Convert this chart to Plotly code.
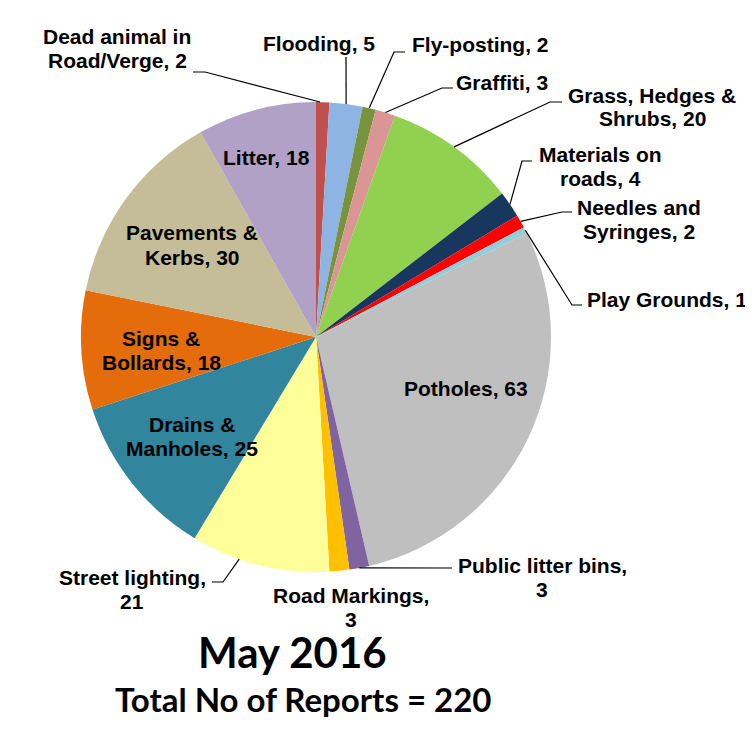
import math
import plotly.graph_objects as go

# ---------------- data ----------------
categories = [
    "Dead animal in Road/Verge", "Flooding", "Fly-posting", "Graffiti",
    "Grass, Hedges & Shrubs", "Materials on roads", "Needles and Syringes",
    "Play Grounds", "Potholes", "Public litter bins", "Road Markings",
    "Street lighting", "Drains & Manholes", "Signs & Bollards",
    "Pavements & Kerbs", "Litter",
]
values = [2, 5, 2, 3, 20, 4, 2, 1, 63, 3, 3, 21, 25, 18, 30, 18]
colors = [
    "#C0504D", "#8DB4E2", "#77933C", "#DA9694", "#92D050", "#17375E",
    "#FF0000", "#92CDDC", "#BFBFBF", "#8064A2", "#FFC000", "#FFFF99",
    "#31859C", "#E46C0A", "#C4BD97", "#B2A1C7",
]
title_text = "May 2016"
subtitle_text = "Total No of Reports = " + str(sum(values))

# ---------------- layout (pixels of the 753x732 window) ----------------
OFF = 8                      # page body margin
W, H = 753 - OFF, 732 - OFF  # figure size
CX, CY, R = 316, 337, 235
LINE_GAP = 24

# label centre (px), words before line break (0 = none), leader points (px) or None,
# fraction within slice where leader touches pie edge
label_layout = {
    "Dead animal in Road/Verge": dict(pos=(117, 48), brk=3, lead=[(193, 72), (205, 72)], f=0.3),
    "Flooding": dict(pos=(319, 43), brk=0, lead=[(346, 57)], f=0.5),
    "Fly-posting": dict(pos=(480, 45), brk=0, lead=[(405, 52), (394, 52)], f=0.5),
    "Graffiti": dict(pos=(502, 82), brk=0, lead=[(453, 88), (442, 88)], f=0.5),
    "Grass, Hedges & Shrubs": dict(pos=(652, 107), brk=3, lead=[(562, 102), (550, 102)], f=0.5),
    "Materials on roads": dict(pos=(600, 167), brk=2, lead=[(532, 161), (522, 161)], f=0.5),
    "Needles and Syringes": dict(pos=(639, 219), brk=2, lead=[(572, 212), (562, 212)], f=0.5),
    "Play Grounds": dict(pos=(667, 299), brk=0, lead=[(582, 305), (572, 305)], f=0.5),
    "Potholes": dict(pos=(466, 388), brk=0, lead=None, f=0.5),
    "Public litter bins": dict(pos=(542, 577), brk=3, lead=[(452, 568)], f=0.5),
    "Road Markings": dict(pos=(351, 607), brk=2, lead=None, f=0.5),
    "Street lighting": dict(pos=(132, 589), brk=2, lead=[(212, 582), (223, 582)], f=0.65),
    "Drains & Manholes": dict(pos=(192, 436), brk=2, lead=None, f=0.5),
    "Signs & Bollards": dict(pos=(161, 350), brk=2, lead=None, f=0.5),
    "Pavements & Kerbs": dict(pos=(192, 245), brk=2, lead=None, f=0.5),
    "Litter": dict(pos=(266, 157), brk=0, lead=None, f=0.5),
}


def px(x):
    return (x - OFF) / W


def py(y):
    return 1 - (y - OFF) / H


total = sum(values)


def edge_point(i, frac):
    cum = sum(values[:i]) + frac * values[i]
    th = 2 * math.pi * cum / total
    return CX + R * math.sin(th), CY - R * math.cos(th)


fig = go.Figure(go.Pie(
    labels=categories,
    values=values,
    sort=False,
    direction="clockwise",
    rotation=0,
    marker=dict(colors=colors, line=dict(width=0)),
    textinfo="none",
    hoverinfo="label+value",
    domain=dict(x=[px(CX - R), px(CX + R)], y=[py(CY + R), py(CY - R)]),
    showlegend=False,
))

LABEL_FONT = dict(family="Liberation Sans, Arial, sans-serif", size=21, color="black")

annotations = []
shapes = []
for i, (cat, val) in enumerate(zip(categories, values)):
    spec = label_layout[cat]
    words = f"{cat}, {val}".split(" ")
    if spec["brk"]:
        lines = [" ".join(words[:spec["brk"]]), " ".join(words[spec["brk"]:])]
    else:
        lines = [" ".join(words)]
    x, y = spec["pos"]
    n = len(lines)
    for k, line in enumerate(lines):
        ly = y + (k - (n - 1) / 2) * LINE_GAP
        annotations.append(dict(
            x=px(x), y=py(ly), xref="paper", yref="paper",
            text="<b>" + line.replace("&", "&amp;") + "</b>",
            showarrow=False, xanchor="center", yanchor="middle", align="center",
            font=LABEL_FONT,
        ))
    if spec["lead"]:
        pts = spec["lead"] + [edge_point(i, spec["f"])]
        path = "M " + " L ".join(f"{px(a):.5f},{py(b):.5f}" for a, b in pts)
        shapes.append(dict(type="path", path=path, xref="paper", yref="paper",
                           line=dict(color="black", width=1.2)))

annotations.append(dict(
    x=px(292), y=py(652), xref="paper", yref="paper", text="<b>" + title_text + "</b>",
    showarrow=False, xanchor="center", yanchor="middle",
    font=dict(family="Lato, sans-serif", size=42, color="black"),
))
annotations.append(dict(
    x=px(303), y=py(699), xref="paper", yref="paper", text="<b>" + subtitle_text + "</b>",
    showarrow=False, xanchor="center", yanchor="middle",
    font=dict(family="Lato, sans-serif", size=33, color="black"),
))

fig.update_layout(
    width=W, height=H,
    margin=dict(l=0, r=0, t=0, b=0),
    paper_bgcolor="white",
    plot_bgcolor="white",
    annotations=annotations,
    shapes=shapes,
)

fig.write_html("out.html")
